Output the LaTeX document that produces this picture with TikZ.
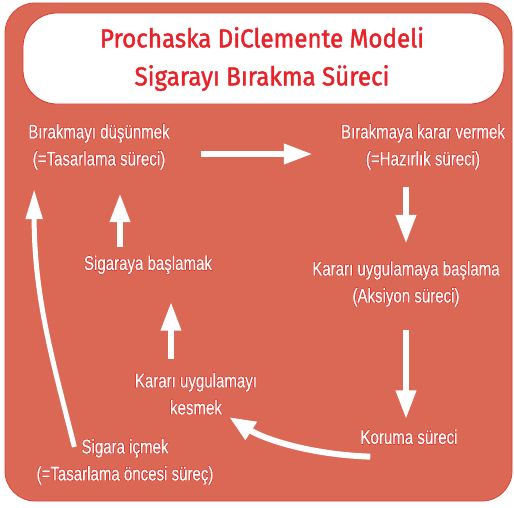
\documentclass[tikz,border=0pt]{standalone}
\usepackage{fontspec}
\usetikzlibrary{arrows.meta}
\usepackage{contour}
\setmainfont{Liberation Sans}[FakeStretch=0.76,FakeBold=0.6]
\newfontfamily\titlefont{Fira Sans}[FakeStretch=0.93,FakeBold=1.6]
\definecolor{bgsalmon}{RGB}{219,104,84}
\definecolor{edgered}{RGB}{222,52,44}
\definecolor{titlered}{RGB}{232,34,40}
\contourlength{0.35pt}
\newcommand{\wt}[1]{\contour{edgered}{#1}}
\begin{document}
\begin{tikzpicture}[x=1pt,y=-1pt,
  lbl/.style={inner sep=0pt, text=white, align=center, font=\fontsize{19.8}{27}\selectfont},
  arr/.style={draw=white, line width=6.5pt, -{Triangle[width=19pt,length=29pt]}, white},
  thinarr/.style={draw=white, line width=5pt, -{Triangle[width=16pt,length=30pt]}, white},
  carr/.style={draw=white, line width=6pt, -{Triangle[width=20pt,length=26pt]}, white}]
\useasboundingbox (0,0) rectangle (514,507);
\fill[white] (0,0) rectangle (514,507);
% outer panel
\draw[fill=bgsalmon, draw=edgered!70!bgsalmon, line width=0.8pt, rounded corners=30pt] (5,3) rectangle (512,501);
% title box
\draw[fill=white, draw=edgered, line width=0.8pt, rounded corners=34pt] (23,13) rectangle (504,104);
\node[text=titlered, align=center, font=\titlefont\fontsize{26}{38}\selectfont] (title) at (262,59)
  {Prochaska DiClemente Modeli\\Sigarayı Bırakma Süreci};
% labels
\node[lbl] (n1) at (99,147) {\wt{Bırakmayı düşünmek}\\\wt{(=Tasarlama süreci)}};
\node[lbl] (n2) at (423,147) {\wt{Bırakmaya karar vermek}\\\wt{(=Hazırlık süreci)}};
\node[lbl] (n3) at (406,284) {\wt{Kararı uygulamaya başlama}\\\wt{(Aksiyon süreci)}};
\node[lbl] (n4) at (409,437) {\wt{Koruma süreci}};
\node[lbl] (n5) at (196,394) {\wt{Kararı uygulamayı}\\\wt{kesmek}};
\node[lbl] (n6) at (148,265) {\wt{Sigaraya başlamak}};
\node[lbl] (n7) at (125,462) {\wt{Sigara içmek}\\\wt{(=Tasarlama öncesi süreç)}};
% arrows
\draw[arr] ([xshift=31pt,yshift=-7pt]n1.east) -- ([xshift=-28pt,yshift=-7pt]n2.west);
\draw[arr] ([yshift=-17pt]n2.south -| n3.north) -- ([yshift=17pt]n3.north);
\draw[arr] ([yshift=-23pt]n3.south) -- ([yshift=10pt]n4.north -| n3.south);
\draw[carr] ([xshift=10pt,yshift=-12pt]n4.south west) .. controls +(-60,-2) and +(35,22) .. ([xshift=-28pt,yshift=-2pt]n5.south east);
\draw[arr] ([xshift=-25pt,yshift=14pt]n5.north) -- ([xshift=23pt,yshift=-27pt]n6.south);
\draw[arr] ([xshift=-28pt,yshift=8pt]n6.north) -- ([xshift=21pt,yshift=-23pt]n1.south);
\draw[thinarr] ([xshift=38pt,yshift=-8pt]n7.north west) .. controls +(-20,-80) and +(0,110) .. ([xshift=6pt,yshift=-19pt]n1.south west);
\end{tikzpicture}
\end{document}
